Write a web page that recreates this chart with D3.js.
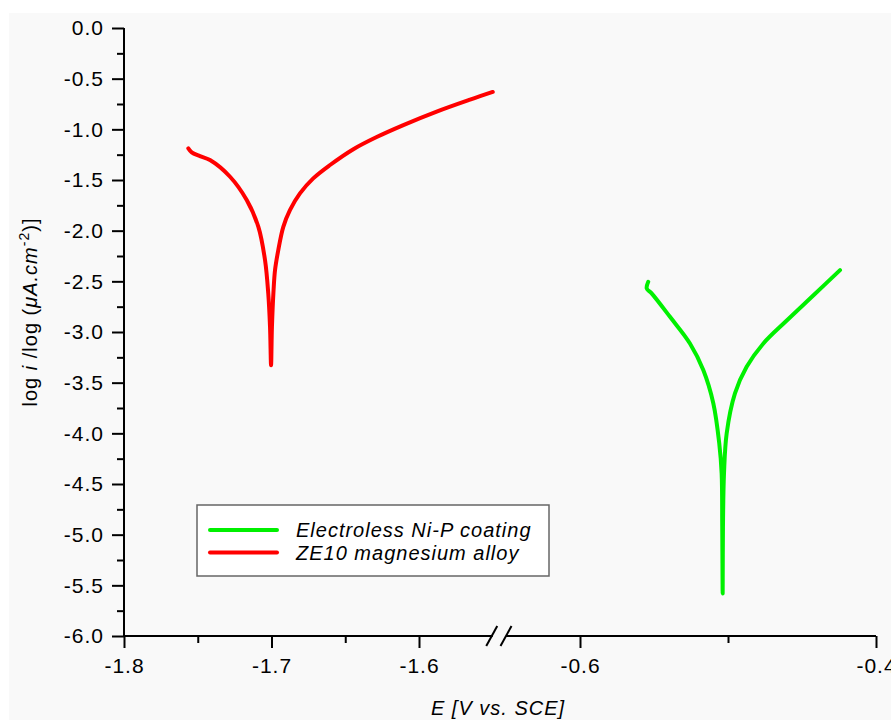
<!DOCTYPE html>
<html>
<head>
<meta charset="utf-8">
<script src="https://cdn.jsdelivr.net/npm/d3@7"></script>
<style>
  body { margin: 0; background: #ffffff; }
  svg { display: block; font-family: Arial, "Liberation Sans", sans-serif; }
  text { letter-spacing: 1px; }
</style>
</head>
<body>
<div id="chart"></div>
<script>
/* data */
var redE    = [-1.7564, -1.7541, -1.7485, -1.7417, -1.7281, -1.7168, -1.7089, -1.7044, -1.7022, -1.7010, -1.7003,
               -1.6997, -1.6986, -1.6976, -1.6954, -1.6920, -1.6875, -1.6807, -1.6717, -1.6603, -1.6445, -1.6287,
               -1.6106, -1.5880, -1.5654, -1.5500];
var redLogI = [-1.188, -1.227, -1.264, -1.303, -1.468, -1.698, -1.962, -2.290, -2.619, -2.949, -3.327,
               -2.949, -2.586, -2.389, -2.192, -1.962, -1.797, -1.632, -1.484, -1.352, -1.196, -1.076,
               -0.958, -0.825, -0.707, -0.631];

var greenE    = [-0.5539, -0.5549, -0.5516, -0.5392, -0.5257, -0.5167, -0.5099, -0.5059, -0.5043, -0.5039, -0.5036,
                 -0.5034, -0.5027, -0.5009, -0.4953, -0.4874, -0.4761, -0.4603, -0.4424, -0.4243];
var greenLogI = [-2.504, -2.570, -2.619, -2.850, -3.113, -3.376, -3.705, -4.100, -4.396, -4.923, -5.580,
                 -4.923, -4.396, -4.001, -3.606, -3.344, -3.113, -2.887, -2.640, -2.389];

var seriesNames = ["Electroless Ni-P coating", "ZE10 magnesium alloy"];
var seriesColors = ["#00f000", "#ff0000"];

var leftMajor = [-1.8, -1.7, -1.6];
var leftMinor = [-1.75, -1.65];
var rightMajor = [-0.6, -0.4];
var rightMinor = [-0.5];
var yMajor = [0, -0.5, -1, -1.5, -2, -2.5, -3, -3.5, -4, -4.5, -5, -5.5, -6];
var yMinor = [-0.25, -0.75, -1.25, -1.75, -2.25, -2.75, -3.25, -3.75, -4.25, -4.75, -5.25, -5.75];

var width = 891, height = 720;

var svg = d3.select("#chart").append("svg")
    .attr("width", width)
    .attr("height", height);

/* grey panel behind the plot */
svg.append("rect")
    .attr("x", 9).attr("y", 13)
    .attr("width", width - 9).attr("height", height - 13)
    .attr("fill", "#f9f9f9");

/* broken x axis: two segments with the same scale factor */
var xLeft = d3.scaleLinear().domain([-1.8, -1.55]).range([124, 492.75]);
var xRight = d3.scaleLinear().domain([-0.65, -0.4]).range([506, 876]);
var y = d3.scaleLinear().domain([-6, 0]).range([636, 28]);
var xAxisY = y(-6);

function xPos(e) { return e < -1 ? xLeft(e) : xRight(e); }
var fmt = function (d) { return d.toFixed(1); };

/* y axis */
var gy = svg.append("g").attr("transform", "translate(124,0)");
gy.call(d3.axisLeft(y).tickValues(yMajor).tickSize(12).tickPadding(8).tickFormat(fmt));
gy.append("g").call(d3.axisLeft(y).tickValues(yMinor).tickSize(7).tickFormat(""));
gy.selectAll(".domain").remove();
gy.append("line").attr("x1", 0).attr("x2", 0).attr("y1", y(0)).attr("y2", xAxisY);

/* x axis, left and right pieces */
[[xLeft, leftMajor, leftMinor], [xRight, rightMajor, rightMinor]].forEach(function (p) {
    var g = svg.append("g").attr("transform", "translate(0," + xAxisY + ")");
    g.call(d3.axisBottom(p[0]).tickValues(p[1]).tickSize(12).tickPadding(10).tickFormat(fmt));
    g.append("g").call(d3.axisBottom(p[0]).tickValues(p[2]).tickSize(7).tickFormat(""));
    g.selectAll(".domain").remove();
    g.append("line")
        .attr("x1", p[0].range()[0]).attr("x2", p[0].range()[1])
        .attr("y1", 0).attr("y2", 0);
});

/* break marks */
[xLeft.range()[1] - 1, xRight.range()[0]].forEach(function (cx) {
    svg.append("line")
        .attr("x1", cx - 5.5).attr("y1", xAxisY + 10)
        .attr("x2", cx + 5.5).attr("y2", xAxisY - 10)
        .attr("stroke", "#000").attr("stroke-width", 2);
});

svg.selectAll("line").filter(function () { return !this.getAttribute("stroke"); })
    .attr("stroke", "#000").attr("stroke-width", 2);
svg.selectAll(".tick line").attr("stroke", "#000").attr("stroke-width", 2);
svg.selectAll(".tick text")
    .attr("fill", "#000")
    .style("font-size", "21px")
    .style("font-family", "Arial, 'Liberation Sans', sans-serif");

/* axis titles */
svg.append("text")
    .attr("x", 498).attr("y", 715)
    .attr("text-anchor", "middle")
    .style("font-size", "20px").style("font-style", "italic")
    .text("E [V vs. SCE]");

var yl = svg.append("text")
    .attr("transform", "translate(37,312) rotate(-90)")
    .attr("text-anchor", "middle")
    .style("font-size", "20px");
yl.append("tspan").text("log ");
yl.append("tspan").style("font-style", "italic").text("i");
yl.append("tspan").text(" /log (");
yl.append("tspan").style("font-style", "italic").text("\u03bcA.cm");
yl.append("tspan").attr("dy", -8).style("font-size", "14px").text("-2");
yl.append("tspan").attr("dy", 8).text(")]");

/* curves */
var line = d3.line()
    .x(function (d) { return xPos(d[0]); })
    .y(function (d) { return y(d[1]); })
    .curve(d3.curveCatmullRom.alpha(0.5));

var redData = redE.map(function (e, i) { return [e, redLogI[i]]; });
var greenData = greenE.map(function (e, i) { return [e, greenLogI[i]]; });

svg.append("path").datum(redData)
    .attr("d", line)
    .attr("fill", "none").attr("stroke", seriesColors[1])
    .attr("stroke-width", 4).attr("stroke-linejoin", "round").attr("stroke-linecap", "round");

svg.append("path").datum(greenData)
    .attr("d", line)
    .attr("fill", "none").attr("stroke", seriesColors[0])
    .attr("stroke-width", 4).attr("stroke-linejoin", "round").attr("stroke-linecap", "round");

/* legend */
var lg = svg.append("g").attr("transform", "translate(197,505)");
lg.append("rect")
    .attr("width", 352).attr("height", 71)
    .attr("fill", "#ffffff").attr("stroke", "#666").attr("stroke-width", 1.5);
seriesNames.forEach(function (name, i) {
    var ly = 25 + i * 22.5;
    lg.append("line")
        .attr("x1", 13).attr("x2", 80).attr("y1", ly).attr("y2", ly)
        .attr("stroke", seriesColors[i]).attr("stroke-width", 4).attr("stroke-linecap", "round");
    lg.append("text")
        .attr("x", 99).attr("y", ly + 7)
        .style("font-size", "20px").style("font-style", "italic")
        .text(name);
});
</script>
</body>
</html>
